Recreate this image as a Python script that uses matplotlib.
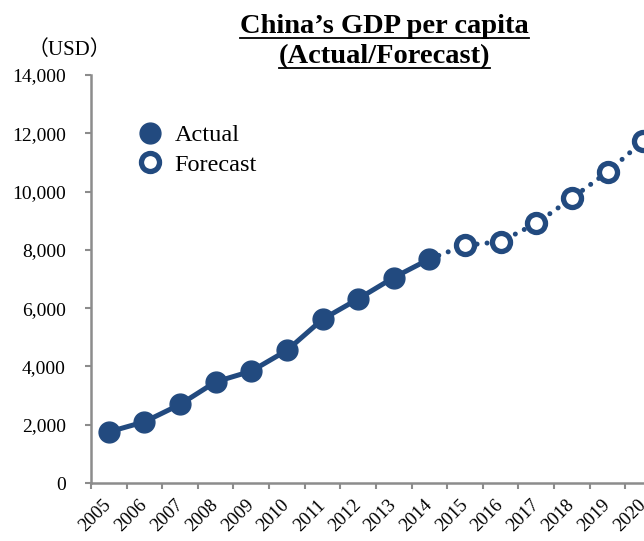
import matplotlib
matplotlib.use("Agg")
import matplotlib.pyplot as plt
from matplotlib.lines import Line2D

years = ["2005", "2006", "2007", "2008", "2009", "2010", "2011", "2012",
         "2013", "2014", "2015", "2016", "2017", "2018", "2019", "2020"]
actual = [1753, 2099, 2695, 3471, 3838, 4550, 5618, 6317, 7051, 7684]
forecast = [8154, 8283, 8910, 9774, 10670, 11731]
yticks = [0, 2000, 4000, 6000, 8000, 10000, 12000, 14000]

NAVY = "#224a7f"
GRAY = "#8c8c8c"
SERIF = ["Liberation Serif", "DejaVu Serif"]

plt.rcParams["font.family"] = SERIF

fig = plt.figure(figsize=(6.44, 5.41), dpi=100)
ax = fig.add_axes([0.1413, 0.1072, 0.885, 0.7542])

x_act = list(range(len(actual)))
x_fc = list(range(len(actual) - 1, len(years)))
fc_line = [actual[-1]] + forecast

# forecast: dotted connector, then hollow markers
ax.plot(x_fc, fc_line, color=NAVY, lw=3.6, linestyle=(0, (0.01, 2.0)),
        dash_capstyle="round", zorder=2)
ax.plot(x_fc[1:], forecast, linestyle="none", marker="o", ms=13,
        mfc="white", mec=NAVY, mew=3.8, zorder=3)
# actual: solid line with filled markers
ax.plot(x_act, actual, color=NAVY, lw=3.6, marker="o", ms=15,
        mfc=NAVY, mec=NAVY, zorder=4, solid_capstyle="round")

ax.set_xlim(-0.5, len(years) - 0.5)
ax.set_ylim(0, 14000)
ax.set_yticks(yticks)
ax.set_yticklabels([f"{v:,}" for v in yticks], fontsize=14)
ax.set_xticks([i - 0.5 for i in range(len(years) + 1)])
ax.set_xticklabels([])
ax.set_xticks(range(len(years)), minor=True)
ax.set_xticklabels(years, minor=True, rotation=45, ha="right", va="center",
                   rotation_mode="anchor", fontsize=13.5)
ax.tick_params(axis="x", which="minor", length=0, pad=14)
ax.tick_params(axis="x", which="major", length=4.5, color=GRAY, width=1.5)
ax.tick_params(axis="y", length=4.5, color=GRAY, width=1.5, pad=13.5)

for s in ("top", "right"):
    ax.spines[s].set_visible(False)
for s in ("left", "bottom"):
    ax.spines[s].set_color(GRAY)
    ax.spines[s].set_linewidth(1.8)

fig.text(0.108, 0.907, "（USD）", fontsize=15, ha="center", va="center",
         family=["Liberation Serif", "Noto Sans CJK JP"])

# legend
legend_items = [
    Line2D([], [], linestyle="none", marker="o", ms=15, mfc=NAVY, mec=NAVY),
    Line2D([], [], linestyle="none", marker="o", ms=13, mfc="white",
           mec=NAVY, mew=3.8),
]
ax.legend(legend_items, ["Actual", "Forecast"], loc="upper left",
          bbox_to_anchor=(0.04, 0.933), frameon=False, fontsize=17.5,
          handletextpad=0.4, labelspacing=0.3, handlelength=1.2)

# underlined two-line title
t1 = fig.text(0.597, 0.939, "China’s GDP per capita", fontsize=20.5,
              fontweight="bold", ha="center", va="baseline")
t2 = fig.text(0.597, 0.884, "(Actual/Forecast)", fontsize=20.5,
              fontweight="bold", ha="center", va="baseline")
fig.canvas.draw()
r = fig.canvas.get_renderer()
for t in (t1, t2):
    bb = t.get_window_extent(r).transformed(fig.transFigure.inverted())
    y = t.get_position()[1] - 0.010
    fig.add_artist(Line2D([bb.x0, bb.x1], [y, y], color="black", lw=1.3,
                          transform=fig.transFigure))

fig.savefig("out.png", dpi=100)
